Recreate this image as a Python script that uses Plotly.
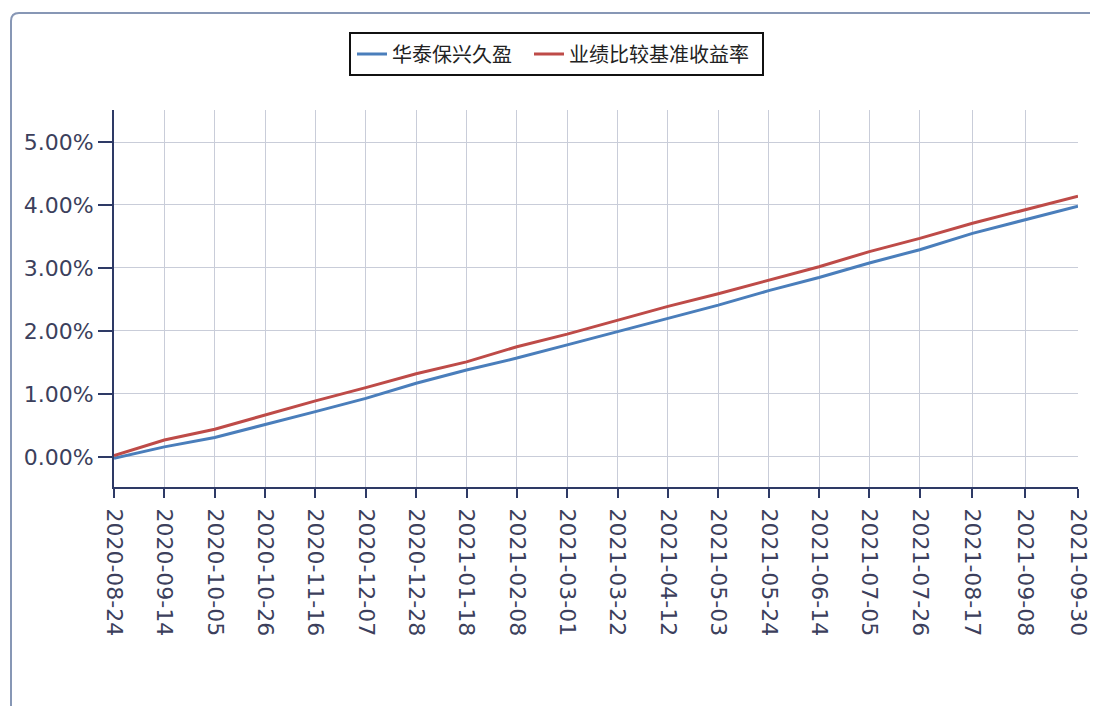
import plotly.graph_objects as go

dates = ["2020-08-24", "2020-09-14", "2020-10-05", "2020-10-26", "2020-11-16",
         "2020-12-07", "2020-12-28", "2021-01-18", "2021-02-08", "2021-03-01",
         "2021-03-22", "2021-04-12", "2021-05-03", "2021-05-24", "2021-06-14",
         "2021-07-05", "2021-07-26", "2021-08-17", "2021-09-08", "2021-09-30"]

fund_name = "华泰保兴久盈"
bench_name = "业绩比较基准收益率"

fund_pct = [-0.02, 0.16, 0.31, 0.51, 0.72, 0.93, 1.17, 1.38, 1.57, 1.78,
            1.99, 2.20, 2.41, 2.64, 2.85, 3.08, 3.29, 3.55, 3.76, 3.98]
bench_pct = [0.02, 0.27, 0.44, 0.67, 0.89, 1.10, 1.32, 1.51, 1.75, 1.95,
             2.17, 2.39, 2.59, 2.81, 3.02, 3.26, 3.47, 3.71, 3.93, 4.14]

y_ticks = [0.0, 1.0, 2.0, 3.0, 4.0, 5.0]

fund = [v / 100 for v in fund_pct]
bench = [v / 100 for v in bench_pct]

fig = go.Figure()
fig.add_trace(go.Scatter(x=dates, y=fund, mode="lines", name=fund_name,
                         line=dict(color="#4a7ebb", width=3), legend="legend"))
fig.add_trace(go.Scatter(x=dates, y=bench, mode="lines", name=bench_name,
                         line=dict(color="#be4b48", width=3), legend="legend2"))

OFF = 8  # page body margin
W, H = 1098 - OFF, 706 - OFF
L, R, T, B = 114 - OFF, 20, 110 - OFF, 219
pw, ph = W - L - R, H - T - B

def px(xp):
    return (xp - OFF - L) / pw

def py(yp):
    return (H - B - (yp - OFF)) / ph

# outer frame (left and top edges with a rounded corner)
fl, ft, fr, fb = px(11), py(13), px(1140), py(740)
rx, ry = 8 / pw, 8 / ph
fig.add_shape(type="path", xref="paper", yref="paper",
              path=f"M {fl},{fb} L {fl},{ft - ry} Q {fl},{ft} {fl + rx},{ft} L {fr},{ft}",
              line=dict(color="#8797b5", width=2), layer="below")

# legend box
fig.add_shape(type="rect", xref="paper", yref="paper",
              x0=px(350), y0=py(75), x1=px(763), y1=py(33),
              line=dict(color="#111111", width=2), fillcolor="rgba(0,0,0,0)")

tick_font = dict(family="DejaVu Sans", size=22, color="#3c3f5c")
leg_font = dict(family="Noto Sans CJK SC", size=20, color="#222222")

fig.update_layout(
    width=W, height=H,
    margin=dict(l=L, r=R, t=T, b=B, autoexpand=False),
    paper_bgcolor="white", plot_bgcolor="white",
    showlegend=True,
    legend=dict(orientation="h", x=px(352), xanchor="left",
                y=py(54), yanchor="middle", borderwidth=0,
                bgcolor="rgba(0,0,0,0)", font=leg_font, itemwidth=30),
    legend2=dict(orientation="h", x=px(529), xanchor="left",
                 y=py(54), yanchor="middle", borderwidth=0,
                 bgcolor="rgba(0,0,0,0)", font=leg_font, itemwidth=30),
    xaxis=dict(type="date", range=[dates[0], dates[-1]],
               tickmode="array", tickvals=dates, ticktext=dates,
               tickangle=90, tickfont=tick_font, ticklabelstandoff=6,
               showgrid=True, gridcolor="#c9cdd9", gridwidth=1,
               showline=True, linecolor="#2e3a66", linewidth=2,
               ticks="outside", ticklen=9, tickcolor="#2e3a66", tickwidth=2,
               zeroline=False),
    yaxis=dict(range=[-0.00477, 0.05508],
               tickmode="array", tickvals=[v / 100 for v in y_ticks],
               tickformat=".2%", tickfont=tick_font,
               showgrid=True, gridcolor="#c9cdd9", gridwidth=1,
               showline=True, linecolor="#2e3a66", linewidth=2,
               ticks="outside", ticklen=14, tickcolor="#2e3a66", tickwidth=2,
               zeroline=False),
)

fig.write_html("out.html")
